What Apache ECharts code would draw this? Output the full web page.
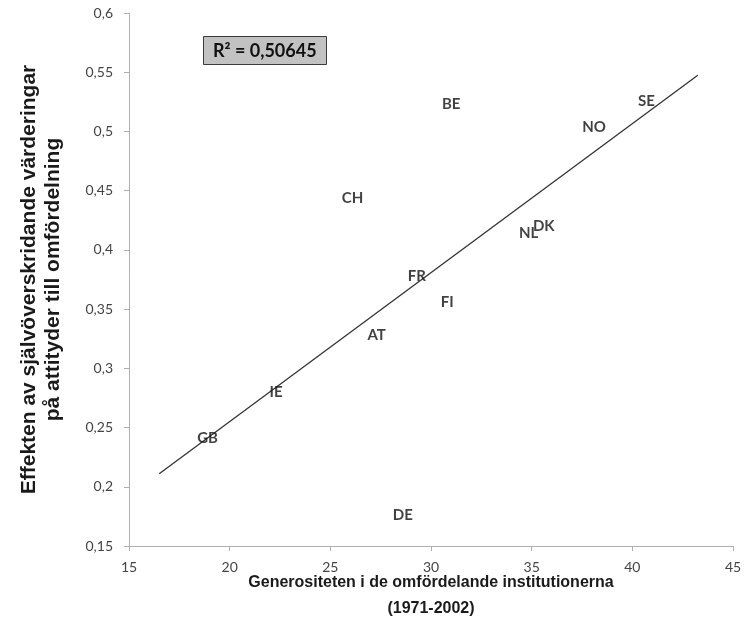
<!DOCTYPE html>
<html>
<head>
<meta charset="utf-8">
<script src="https://cdn.jsdelivr.net/npm/echarts@6/dist/echarts.min.js"></script>
<style>html,body{margin:0;padding:0;background:#fff}#c{width:745px;height:642px}</style>
</head>
<body>
<div id="c"></div>
<script>
var countries = ['BE','CH','FR','FI','AT','IE','GB','DE','NL','DK','NO','SE'];
var generosity = [31.0, 26.1, 29.3, 30.8, 27.3, 22.3, 18.9, 28.6, 34.85, 35.6, 38.1, 40.7];
var effect = [0.523, 0.444, 0.3775, 0.356, 0.328, 0.280, 0.241, 0.176, 0.414, 0.420, 0.504, 0.5255];
var trendX = [16.5, 43.25];
var trendY = [0.211, 0.5475];
var xTickLabels = ['15','20','25','30','35','40','45'];
var yTickLabels = ['0,15','0,2','0,25','0,3','0,35','0,4','0,45','0,5','0,55','0,6'];
var r2Text = 'R² = 0,50645';

var points = countries.map(function(c,i){ return {value:[generosity[i], effect[i]], name:c}; });
var trend = trendX.map(function(x,i){ return [x, trendY[i]]; });

var chart = echarts.init(document.getElementById('c'));
chart.setOption({
  animation: false,
  title: {
    text: r2Text,
    left: 203, top: 36,
    backgroundColor: '#c2c2c2',
    borderColor: '#3a3a3a',
    borderWidth: 1,
    padding: [6, 10, 5, 10],
    textStyle: {fontFamily: 'Lato', fontWeight: 'bold', fontSize: 18, color: '#111'}
  },
  grid: {left: 129, right: 12, top: 13, bottom: 96, containLabel: false},
  xAxis: {
    type: 'value', min: 15, max: 45, interval: 5,
    name: 'Generositeten i de omfördelande institutionerna\n(1971-2002)',
    nameLocation: 'middle', nameGap: 24, nameMoveOverlap: false,
    nameTextStyle: {fontFamily: 'Liberation Sans', fontWeight: 'bold', fontSize: 16, color: '#1a1a1a', lineHeight: 26},
    axisLine: {lineStyle: {color: '#b0b0b0', width: 1}},
    axisTick: {show: true, length: 5, lineStyle: {color: '#b0b0b0'}},
    splitLine: {show: false},
    axisLabel: {fontFamily: 'Lato', fontSize: 14, color: '#444', margin: 14,
      formatter: function(v){ return xTickLabels[Math.round((v-15)/5)]; }}
  },
  yAxis: {
    type: 'value', min: 0.15, max: 0.6, interval: 0.05,
    name: 'Effekten av självöverskridande värderingar\npå attityder till omfördelning',
    nameLocation: 'middle', nameGap: 64, nameRotate: 90, nameMoveOverlap: false,
    nameTextStyle: {fontFamily: 'Liberation Sans', fontWeight: 'bold', fontSize: 21, color: '#1a1a1a', lineHeight: 24},
    axisLine: {show: true, lineStyle: {color: '#b0b0b0', width: 1}},
    axisTick: {show: true, length: 5, lineStyle: {color: '#b0b0b0'}},
    splitLine: {show: false},
    axisLabel: {fontFamily: 'Lato', fontSize: 14, color: '#444', margin: 16,
      formatter: function(v){ return yTickLabels[Math.round((v-0.15)/0.05)]; }}
  },
  series: [
    {
      type: 'line', data: trend, symbol: 'none', silent: true,
      lineStyle: {color: '#333', width: 1.3}, z: 1
    },
    {
      type: 'scatter', data: points, symbolSize: 1,
      itemStyle: {color: 'rgba(0,0,0,0)'},
      label: {show: true, position: 'inside', formatter: '{b}',
        fontFamily: 'Lato', fontWeight: 'bold', fontSize: 15, color: '#111',
        textBorderWidth: 0},
      z: 3
    }
  ]
});
</script>
</body>
</html>
